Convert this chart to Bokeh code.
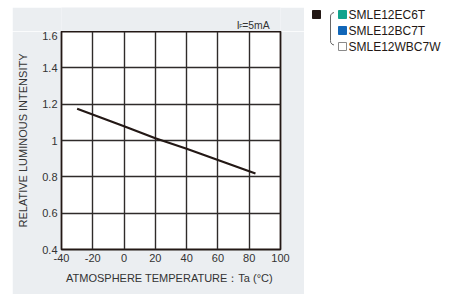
from bokeh.plotting import figure
from bokeh.models import Range1d, FixedTicker, CustomJSTickFormatter, Spacer
from bokeh.layouts import row, column
from bokeh.embed import file_html
from bokeh.resources import INLINE
from bokeh.core.properties import value

# ---- data ----
temperature = [-30, 0, 20, 40, 60, 84]
intensity = [1.175, 1.078, 1.012, 0.955, 0.893, 0.818]
x_ticks = [-40, -20, 0, 20, 40, 60, 80, 100]
y_ticks = [0.4, 0.6, 0.8, 1.0, 1.2, 1.4, 1.6]
condition_parts = ["I", "F", "=5mA"]
legend_names = ["SMLE12EC6T", "SMLE12BC7T", "SMLE12WBC7W"]
legend_colors = ["#12a48d", "#1166b8", "#ffffff"]
legend_edges = ["#12a48d", "#1166b8", "#8a8a8a"]

FONT = "Liberation Sans"
DARK = "#231815"
GRAY_BG = "#ebeef1"
TXT = "#333333"

PW = 292   # gray panel width
TOP_H = 24  # strip above the plot frame

# ---- strip above frame holding the condition text ----
top = figure(width=PW, height=TOP_H, output_backend="svg", toolbar_location=None,
             x_range=Range1d(0, PW), y_range=Range1d(TOP_H, 0),
             x_axis_type=None, y_axis_type=None, min_border=0, title=None)
top.grid.visible = False
top.outline_line_color = None
top.background_fill_color = GRAY_BG
top.border_fill_color = GRAY_BG
top.text(x=[233.6], y=[18], text=[condition_parts[0]], text_align="left",
         text_baseline="alphabetic", text_font=value(FONT), text_font_size="10.4px", text_color=TXT)
top.text(x=[237.0], y=[18], text=[condition_parts[1]], text_align="left",
         text_baseline="alphabetic", text_font=value(FONT), text_font_size="5.5px", text_color=TXT)
top.text(x=[241.0], y=[18], text=[condition_parts[2]], text_align="left",
         text_baseline="alphabetic", text_font=value(FONT), text_font_size="10.4px", text_color=TXT)

# ---- main chart ----
p = figure(width=PW, height=263, output_backend="svg", toolbar_location=None,
           x_range=Range1d(-40, 100), y_range=Range1d(0.4, 1.6),
           min_border_left=49, min_border_right=24, min_border_top=0, min_border_bottom=45,
           title=None)
p.border_fill_color = GRAY_BG
p.background_fill_color = "white"
p.outline_line_color = DARK
p.outline_line_width = 1.8

p.line(temperature, intensity, line_color=DARK, line_width=2.2)

for ax in (p.xaxis[0], p.yaxis[0]):
    ax.axis_line_color = None
    ax.major_tick_line_color = None
    ax.minor_tick_line_color = None
    ax.major_tick_out = 0
    ax.major_tick_in = 0
    ax.major_label_text_font = FONT
    ax.major_label_text_font_size = "11px"
    ax.major_label_text_color = TXT
    ax.axis_label_text_font = FONT
    ax.axis_label_text_font_size = "11px"
    ax.axis_label_text_color = TXT
    ax.axis_label_text_font_style = "normal"

p.xaxis.ticker = FixedTicker(ticks=x_ticks)
p.yaxis.ticker = FixedTicker(ticks=y_ticks)
p.xaxis.formatter = CustomJSTickFormatter(code="return String(Math.round(tick));")
p.yaxis.formatter = CustomJSTickFormatter(code="return tick.toFixed(1).replace(/\\.0$/, '');")
p.xaxis.major_label_standoff = 4
p.yaxis.major_label_standoff = 4
p.xaxis.axis_label = "ATMOSPHERE TEMPERATURE\uff1aTa  (\u00b0C)"
p.yaxis.axis_label = "RELATIVE LUMINOUS INTENSITY"
p.xaxis.axis_label_standoff = 7
p.yaxis.axis_label_standoff = 10

p.xgrid.ticker = FixedTicker(ticks=x_ticks)
p.ygrid.ticker = FixedTicker(ticks=y_ticks)
for g in (p.xgrid[0], p.ygrid[0]):
    g.grid_line_color = "#2f2b2a"
    g.grid_line_width = 1.4

# ---- legend panel ----
LW, LH = 143, 287
lg = figure(width=LW, height=LH, output_backend="svg", toolbar_location=None,
            x_range=Range1d(0, LW), y_range=Range1d(LH, 0),
            x_axis_type=None, y_axis_type=None, min_border=0, title=None)
lg.grid.visible = False
lg.outline_line_color = None
lg.border_fill_color = "white"
lg.background_fill_color = "white"

row_y = [7 + 16 * i for i in range(len(legend_names))]
lg.rect(x=[12], y=[row_y[0]], width=8, height=8, fill_color=DARK, line_color=DARK)
lg.rect(x=[38] * len(legend_names), y=row_y, width=8, height=8,
        fill_color=legend_colors, line_color=legend_edges, line_width=1)
lg.text(x=[44] * len(legend_names), y=[v + 0.5 for v in row_y], text=legend_names,
        text_font=value(FONT), text_font_size="12px", text_baseline="middle",
        text_color=DARK)
# bracket
b_top, b_bot = row_y[0] - 2, row_y[-1] - 1.5
lg.line(x=[29.5, 27.5, 26.2, 26, 26, 26.2, 27.5, 29.5],
        y=[b_top, b_top + 0.8, b_top + 2.5, b_top + 4.5, b_bot - 4.5, b_bot - 2.5, b_bot - 0.8, b_bot],
        line_color="#666666", line_width=1)

layout = column(Spacer(width=447, height=7),
                row(Spacer(width=12, height=LH), column(top, p), lg))
open("out.html", "w").write(file_html(layout, INLINE))
